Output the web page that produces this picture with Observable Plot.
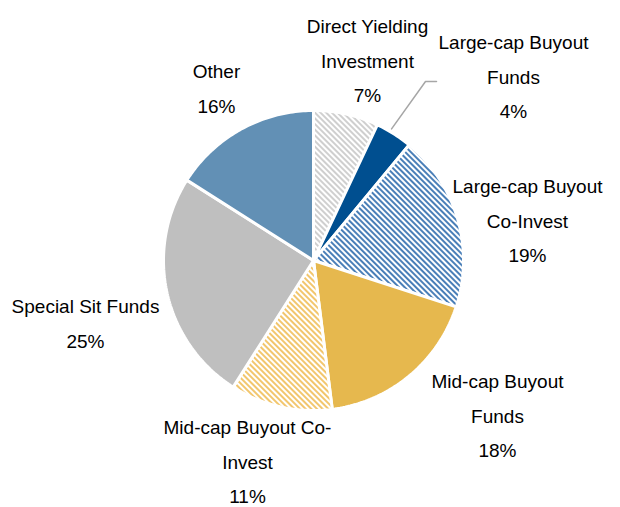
<!DOCTYPE html>
<html><head><meta charset="utf-8">
<script src="https://cdn.jsdelivr.net/npm/d3@7"></script>
<script src="https://cdn.jsdelivr.net/npm/@observablehq/plot@0.6"></script>
<style>html,body{margin:0;padding:0;background:#fff;}</style>
</head><body><div id="chart"></div>
<script>
// ---- data ----
const categories = ["Direct Yielding Investment","Large-cap Buyout Funds","Large-cap Buyout Co-Invest","Mid-cap Buyout Funds","Mid-cap Buyout Co-Invest","Special Sit Funds","Other"];
const labelLines = ["Direct Yielding\nInvestment","Large-cap Buyout\nFunds","Large-cap Buyout\nCo-Invest","Mid-cap Buyout\nFunds","Mid-cap Buyout Co-\nInvest","Special Sit Funds","Other"];
const shares = [7, 4, 19, 18, 11, 25, 16];

// ---- styles / layout ----
const sliceFill = ["url(#hatchGray)","#004f90","url(#hatchBlue)","#e6b84e","url(#hatchGold)","#bfbfbf","#6290b5"];
const W = 620, H = 507, CX = 313, CY = 260, R = 150;
const labelOffset = [[54,-199],[200,-183],[214,-39],[184,156],[-66,202],[-228,64],[-97,-171]];

const arcs = d3.pie().sort(null).value(d => d)(shares);
const slicePts = [];
arcs.forEach((p, i) => {
  const n = Math.max(2, Math.ceil((p.endAngle - p.startAngle) / (Math.PI / 180)));
  slicePts.push({i, x: 0, y: 0});
  for (let k = 0; k <= n; k++) {
    const a = p.startAngle + (p.endAngle - p.startAngle) * k / n;
    slicePts.push({i, x: R * Math.sin(a), y: -R * Math.cos(a)});
  }
  slicePts.push({i, x: 0, y: 0});
});

const labels = categories.map((c, i) => ({
  text: labelLines[i] + "\n" + shares[i] + "%",
  x: labelOffset[i][0], y: labelOffset[i][1]
}));

// leader line for the small slice
const li = 1;
const midA = (arcs[li].startAngle + arcs[li].endAngle) / 2 - 0.03;
const leader = [
  {x: (R + 3) * Math.sin(midA), y: -(R + 3) * Math.cos(midA)},
  {x: labelOffset[li][0] - 88, y: labelOffset[li][1] + 4},
  {x: labelOffset[li][0] - 77, y: labelOffset[li][1] + 4}
];

const chart = Plot.plot({
  width: W, height: H, margin: 0,
  x: {domain: [-CX, W - CX], range: [0, W], axis: null},
  y: {domain: [-CY, H - CY], range: [0, H], axis: null},
  color: {type: "identity"},
  style: {fontFamily: "'Liberation Sans', Arial, sans-serif", background: "white", color: "black"},
  marks: [
    Plot.line(slicePts, {x: "x", y: "y", z: "i", fill: d => sliceFill[d.i], stroke: "white", strokeWidth: 3, strokeLinejoin: "miter"}),
    Plot.line(leader, {x: "x", y: "y", stroke: "#a6a6a6", strokeWidth: 1.5}),
    Plot.text(labels, {x: "x", y: "y", text: "text", fontSize: 19, lineHeight: 1.82, dy: -5, fill: "black"})
  ]
});

const ns = "http://www.w3.org/2000/svg";
const defs = document.createElementNS(ns, "defs");
function hatch(id, color) {
  return `<pattern id="${id}" patternUnits="userSpaceOnUse" width="4" height="4" patternTransform="rotate(45)">
    <rect width="4" height="4" fill="white"/>
    <rect x="0" y="0" width="4" height="2" fill="${color}"/></pattern>`;
}
defs.innerHTML = hatch("hatchGray", "#cfcfcf") + hatch("hatchBlue", "#4a7fb8") + hatch("hatchGold", "#f2c66d");
chart.insertBefore(defs, chart.firstChild);
document.getElementById("chart").appendChild(chart);
</script>
</body></html>
